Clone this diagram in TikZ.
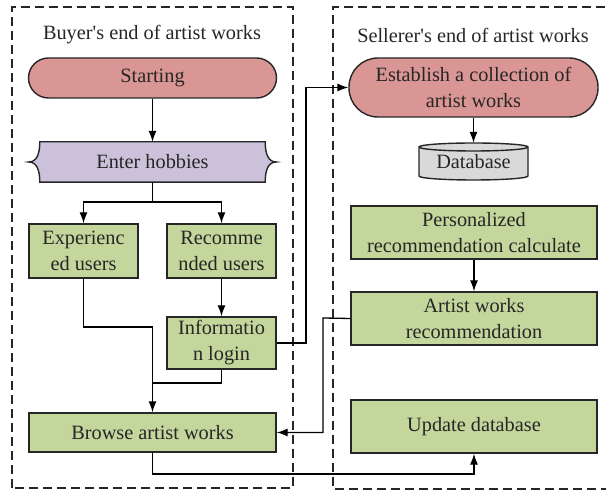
\documentclass[tikz,border=0pt]{standalone}
\usepackage{fontspec}
\setmainfont{Liberation Serif}
\newfontfamily\tnr{Liberation Serif}
\usetikzlibrary{arrows.meta,backgrounds}
\definecolor{termred}{HTML}{D99694}
\definecolor{lav}{HTML}{CCC1DA}
\definecolor{boxgreen}{HTML}{C3D69B}
\definecolor{dbgrey}{HTML}{D9D9D9}
\definecolor{ink}{HTML}{262626}
\begin{document}
\begin{tikzpicture}[x=1pt,y=1pt,
  every node/.style={font=\tnr\fontsize{20.3}{26}\selectfont, text=ink},
  region/.style={draw=ink, line width=1.3pt, dash pattern=on 9pt off 5pt},
  gbox/.style={draw=ink, line width=1.4pt, fill=boxgreen, align=center, inner sep=0pt},
  term/.style={draw=ink, line width=1.4pt, fill=termred, align=center, inner sep=0pt},
  conn/.style={draw=black, line width=1.3pt, -{Latex[length=11pt,width=8pt]}},
  plain/.style={draw=black, line width=1.3pt}]
\useasboundingbox (0,0) rectangle (606,492);
% regions
\draw[region] (12,4) rectangle (293,485);
\draw[region] (610,3) -- (333,3) -- (333,485) -- (610,485);
\node (t1) at (152,457) {Buyer's end of artist works};
\node (t2) at (473,457) {Sellerer's end of artist works};
% left column
\node[term, minimum width=248, minimum height=40, rounded corners=20pt] (start) at (152.5,414) {Starting};
\node[minimum width=225, minimum height=40, inner sep=0pt] (eh) at (152.5,330) {Enter hobbies};
\begin{scope}[on background layer]
\filldraw[draw=ink, line width=1.4pt, fill=lav]
  (eh.north west) .. controls +(0,-12) and +(8,0) .. ([xshift=-11pt]eh.west)
  .. controls +(8,0) and +(0,12) .. (eh.south west) -- (eh.south east)
  .. controls +(0,12) and +(-8,0) .. ([xshift=11pt]eh.east)
  .. controls +(-8,0) and +(0,-12) .. (eh.north east) -- cycle;
\end{scope}
\node[gbox, minimum width=109, minimum height=54] (exp) at (83.5,241) {Experienc\\ed users};
\node[gbox, minimum width=109, minimum height=54] (rec) at (221.5,241) {Recomme\\nded users};
\node[gbox, minimum width=109, minimum height=52] (info) at (221.5,149) {Informatio\\n login};
\node[gbox, minimum width=247, minimum height=39] (browse) at (152.5,59.5) {Browse artist works};
% right column
\node[term, minimum width=249, minimum height=59, rounded corners=29pt] (est) at (473.5,404.5) {Establish a collection of\\artist works};
\node[minimum width=109, minimum height=37, inner sep=0pt] (db) at (473.5,330.5) {Database};
\begin{scope}[on background layer]
\filldraw[draw=ink, line width=1.4pt, fill=dbgrey]
  (419,345) -- (419,316) arc[start angle=180, end angle=360, x radius=54.5, y radius=4]
  -- (528,345) arc[start angle=0, end angle=180, x radius=54.5, y radius=4] -- cycle;
\draw[draw=ink, line width=1.4pt] (419,345) arc[start angle=180, end angle=360, x radius=54.5, y radius=4];
\end{scope}
\node[gbox, minimum width=246, minimum height=53] (pers) at (474,259.5) {Personalized\\recommendation calculate};
\node[gbox, minimum width=246, minimum height=53] (awr) at (474,173.5) {Artist works\\recommendation};
\node[gbox, minimum width=246, minimum height=53] (upd) at (474,65.5) {Update database};
% connectors
\coordinate (br) at (152.5,290);
\coordinate (j1) at (152.5,165);
\coordinate (j2) at (152.5,109);
\coordinate (c1) at (306,149);
\coordinate (c2) at (323,174);
\coordinate (c3) at (474,18);
\draw[conn] (start.south) -- (eh.north);
\draw[plain] (eh.south) -- (br);
\draw[conn] (br) -| (exp.north);
\draw[conn] (br) -| (rec.north);
\draw[conn] (rec.south) -- (info.north);
\draw[conn] (exp.south) |- (j1) -- (browse.north);
\draw[plain] (info.south) |- (j2);
\draw[conn] (info.east) -- (c1) |- (est.west);
\draw[conn] (est.south) -- (db.north);
\draw[conn] (pers.south) -- (awr.north);
\draw[conn] (awr.west) -- (c2) |- (browse.east);
\draw[conn] (browse.south) |- (c3) -- (upd.south);
\end{tikzpicture}
\end{document}
